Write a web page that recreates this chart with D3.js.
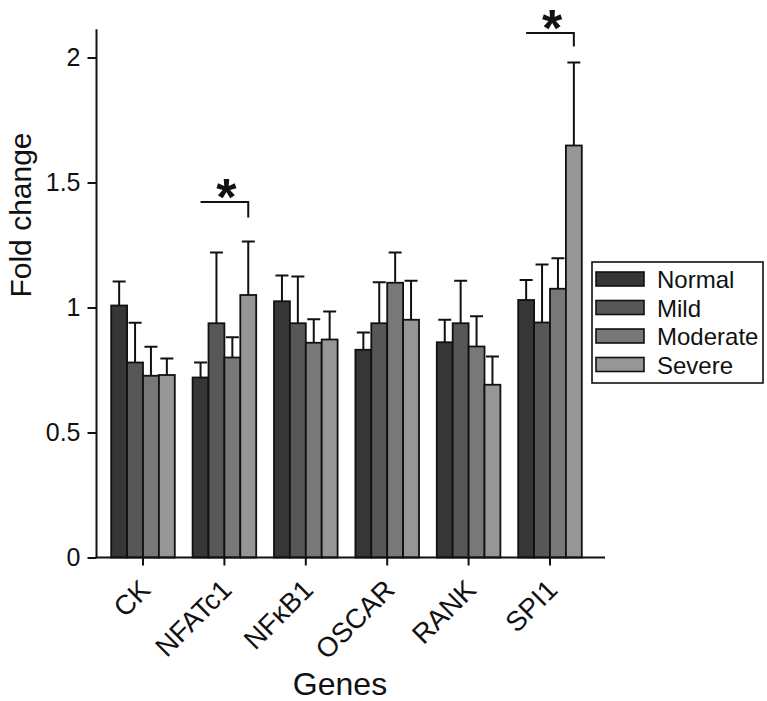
<!DOCTYPE html>
<html>
<head>
<meta charset="utf-8">
<script src="https://cdn.jsdelivr.net/npm/d3@7"></script>
<style>
  html, body { margin: 0; padding: 0; background: #fff; }
  svg { display: block; font-family: "Liberation Sans", Arial, Helvetica, sans-serif; }
</style>
</head>
<body>
<svg id="chart" width="767" height="701"></svg>
<script>
// ---- data ----
const genes = ["CK", "NFATc1", "NFκB1", "OSCAR", "RANK", "SPI1"];
const seriesNames = ["Normal", "Mild", "Moderate", "Severe"];
const normal   = [1.008, 0.720, 1.025, 0.831, 0.861, 1.030];
const mild     = [0.780, 0.937, 0.937, 0.937, 0.937, 0.940];
const moderate = [0.727, 0.800, 0.859, 1.099, 0.844, 1.075];
const severe   = [0.730, 1.050, 0.872, 0.951, 0.691, 1.648];
const errNormal   = [0.096, 0.060, 0.103, 0.069, 0.090, 0.080];
const errMild     = [0.159, 0.283, 0.187, 0.164, 0.170, 0.232];
const errModerate = [0.116, 0.081, 0.094, 0.121, 0.121, 0.122];
const errSevere   = [0.066, 0.214, 0.112, 0.156, 0.113, 0.332];
const yTicks = [0, 0.5, 1, 1.5, 2];
const yTickLabels = ["0", "0.5", "1", "1.5", "2"];
// significance brackets: gene, bracket level, drop-end level
const sigGenes = ["NFATc1", "SPI1"];
const sigLevel = [1.422, 2.098];
const sigDrop  = [1.360, 2.044];

const colors = ["#363636", "#575757", "#787878", "#969696"];
const values = [normal, mild, moderate, severe];
const errs = [errNormal, errMild, errModerate, errSevere];

// ---- layout ----
const FONT = "Liberation Sans, Arial, Helvetica, sans-serif";
const svg = d3.select("#chart");
const y = d3.scaleLinear().domain([0, 2]).range([557.5, 57.5]);
const x0 = d3.scaleBand().domain(genes).range([102.3, 590.7]).padding(0);
const x1 = d3.scaleBand().domain(seriesNames).range([-31.8, 31.8]).padding(0);
const center = g => x0(g) + x0.bandwidth() / 2;
const axisX = 96.5;

const rows = [];
genes.forEach((g, i) => {
  seriesNames.forEach((s, j) => {
    rows.push({ gene: g, series: s, v: values[j][i], e: errs[j][i], c: colors[j] });
  });
});

const gBars = svg.append("g");
const eg = gBars.selectAll("g.err").data(rows).join("g").attr("class", "err");
const mid = d => center(d.gene) + x1(d.series) + x1.bandwidth() / 2;
eg.append("line")
  .attr("x1", mid).attr("x2", mid)
  .attr("y1", d => y(d.v)).attr("y2", d => y(d.v + d.e))
  .attr("stroke", "#111").attr("stroke-width", 2);
eg.append("line")
  .attr("x1", d => mid(d) - 6.5).attr("x2", d => mid(d) + 6.5)
  .attr("y1", d => y(d.v + d.e)).attr("y2", d => y(d.v + d.e))
  .attr("stroke", "#111").attr("stroke-width", 2);

gBars.selectAll("rect.bar").data(rows).join("rect")
  .attr("class", "bar")
  .attr("x", d => center(d.gene) + x1(d.series))
  .attr("y", d => y(d.v))
  .attr("width", x1.bandwidth())
  .attr("height", d => y(0) - y(d.v))
  .attr("fill", d => d.c)
  .attr("stroke", "#111")
  .attr("stroke-width", 1.8);

// y axis
const yAxis = d3.axisLeft(y).tickValues(yTicks)
  .tickFormat((d, i) => yTickLabels[i]).tickSize(9).tickSizeOuter(0).tickPadding(7);
const gy = svg.append("g").attr("transform", `translate(${axisX},0)`).call(yAxis);
gy.attr("font-size", 25).attr("font-family", FONT);
gy.select(".domain").remove();
gy.selectAll(".tick line").attr("stroke", "#111").attr("stroke-width", 2);
gy.selectAll(".tick text").attr("fill", "#111");
svg.append("line").attr("x1", axisX).attr("x2", axisX)
  .attr("y1", y(0)).attr("y2", y(2.113))
  .attr("stroke", "#111").attr("stroke-width", 2);

// x axis
const xAxis = d3.axisBottom(x0).tickSize(8).tickSizeOuter(0).tickFormat(() => "");
const gx = svg.append("g").attr("transform", `translate(0,${y(0)})`).call(xAxis);
gx.select(".domain").remove();
gx.selectAll(".tick line").attr("stroke", "#111").attr("stroke-width", 2);
svg.append("line").attr("x1", axisX - 1).attr("x2", 605)
  .attr("y1", y(0)).attr("y2", y(0))
  .attr("stroke", "#111").attr("stroke-width", 2);

// category labels
svg.append("g").selectAll("text").data(genes).join("text")
  .attr("transform", g => `translate(${center(g) + 9},${y(0) + 34}) rotate(-45)`)
  .attr("text-anchor", "end")
  .attr("font-size", 27.5)
  .attr("fill", "#111")
  .text(g => g);

// axis titles
svg.append("text")
  .attr("transform", `translate(31,${y(1.37)}) rotate(-90)`)
  .attr("text-anchor", "middle")
  .attr("font-size", 30)
  .attr("fill", "#111")
  .text("Fold change");
svg.append("text")
  .attr("x", 340).attr("y", 695)
  .attr("text-anchor", "middle")
  .attr("font-size", 32)
  .attr("fill", "#111")
  .text("Genes");

// significance brackets
sigGenes.forEach((g, k) => {
  const xa = center(g) + x1(seriesNames[0]) + x1.bandwidth() / 2;
  const xb = center(g) + x1(seriesNames[3]) + x1.bandwidth() / 2;
  svg.append("path")
    .attr("d", `M${xa},${y(sigLevel[k])}H${xb}V${y(sigDrop[k])}`)
    .attr("fill", "none").attr("stroke", "#111").attr("stroke-width", 2);
  svg.append("text")
    .attr("x", (xa + xb) / 2 + 2)
    .attr("y", y(sigLevel[k]) + 13)
    .attr("text-anchor", "middle")
    .attr("font-size", 52)
    .attr("font-weight", "bold")
    .attr("fill", "#111")
    .text("*");
});

// legend
const lg = svg.append("g");
lg.append("rect").attr("x", 592).attr("y", 262).attr("width", 171).attr("height", 121)
  .attr("fill", "#fff").attr("stroke", "#111").attr("stroke-width", 1.6);
const li = lg.selectAll("g.item").data(seriesNames).join("g")
  .attr("class", "item")
  .attr("transform", (d, i) => `translate(596,${272 + i * 28.5})`);
li.append("rect").attr("width", 48).attr("height", 14)
  .attr("fill", (d, i) => colors[i]).attr("stroke", "#111").attr("stroke-width", 1.6);
li.append("text").attr("x", 61).attr("y", 16).attr("font-size", 24).attr("fill", "#111")
  .text(d => d);
</script>
</body>
</html>
